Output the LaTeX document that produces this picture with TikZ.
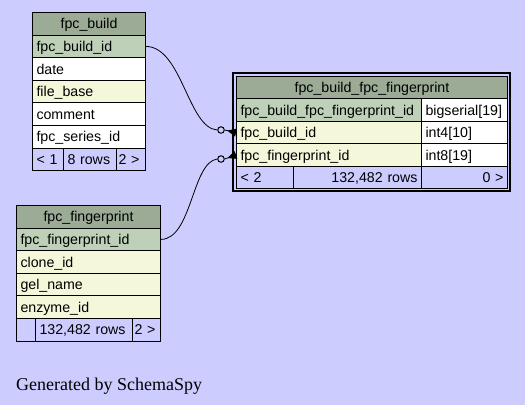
\documentclass[tikz,border=0pt]{standalone}
\usepackage{fontspec}
\usepackage{tikz}
\usetikzlibrary{positioning, arrows.meta}
\newfontfamily\tabfont{Liberation Sans}
\newfontfamily\capfont{Liberation Serif}
\definecolor{PageLavender}{RGB}{204, 204, 255}
\definecolor{HeadGray}{RGB}{155, 171, 150}
\definecolor{KeyGreen}{RGB}{190, 209, 184}
\definecolor{IndexYellow}{RGB}{244, 247, 218}

\begin{document}
\begin{tikzpicture}[x=1pt, y=-1pt,
    row/.style={draw, line width=1pt, anchor=north west, minimum height=22.6pt,
      inner xsep=4pt, inner ysep=0pt, text height=11pt, text depth=1pt,
      align=left, font=\tabfont\fontsize{14.2}{16}\selectfont},
    head/.style={row, fill=HeadGray, align=center},
    odot/.style={circle, draw, line width=1pt, minimum size=6.5pt, inner sep=0pt},
    crow/.style={line width=0.8pt, -{Triangle[reversed, length=9pt, width=8pt]}}]
    % Page
    \fill[PageLavender] (0,0) rectangle (525,405);

    % fpc_build table
    \node[head, text width=105pt] (bhead) at (32,12) {fpc\_build};
    \node[row, fill=KeyGreen, text width=105pt] (bid) at (32,34.6) {fpc\_build\_id};
    \node[row, fill=white, text width=105pt] (bdate) at (32,57.2) {date};
    \node[row, fill=IndexYellow, text width=105pt] (bfile) at (32,79.8) {file\_base};
    \node[row, fill=white, text width=105pt] (bcomment) at (32,102.4) {comment};
    \node[row, fill=white, text width=105pt] (bseries) at (32,125) {fpc\_series\_id};
    % Footer row
    \node[row, text width=23pt] (bprev) at (32,147.6) {< 1};
    \node[row, text width=45pt] (brows) at (63,147.6) {8 rows};
    \node[row, inner xsep=2pt, text width=25pt] (bnext) at (116,147.6) {2 >};

    % fpc_fingerprint table
    \node[head, text width=136pt] (fhead) at (16,205) {fpc\_fingerprint};
    \node[row, fill=KeyGreen, text width=136pt] (fid) at (16,227.6) {fpc\_fingerprint\_id};
    \node[row, fill=IndexYellow, text width=136pt] (fclone) at (16,250.2) {clone\_id};
    \node[row, fill=IndexYellow, text width=136pt] (fgel) at (16,272.8) {gel\_name};
    \node[row, fill=IndexYellow, text width=136pt] (fenzyme) at (16,295.4) {enzyme\_id};
    % Footer row
    \node[row, text width=11pt] (fprev) at (16,318) {};
    \node[row, text width=89pt] (frows) at (35,318) {132,482 rows};
    \node[row, inner xsep=2pt, text width=24pt] (fnext) at (132,318) {2 >};

    % fpc_build_fpc_fingerprint table (selected)
    \node[head, text width=263pt] (lhead) at (236,76) {fpc\_build\_fpc\_fingerprint};
    \node[row, fill=KeyGreen, text width=177pt] (lid) at (236,98.4) {fpc\_build\_fpc\_fingerprint\_id};
    \node[row, fill=white, text width=78pt] (lidtype) at (421,98.4) {bigserial[19]};
    \node[row, fill=IndexYellow, text width=177pt] (lbuild) at (236,120.8) {fpc\_build\_id};
    \node[row, fill=white, text width=78pt] (lbuildtype) at (421,120.8) {int4[10]};
    \node[row, fill=IndexYellow, text width=177pt] (lfinger) at (236,143.2) {fpc\_fingerprint\_id};
    \node[row, fill=white, text width=78pt] (lfingertype) at (421,143.2) {int8[19]};
    % Footer row
    \node[row, text width=49pt] (lprev) at (236,165.6) {< 2};
    \node[row, text width=120pt, align=right] (lrows) at (293,165.6) {132,482 rows};
    \node[row, text width=78pt, align=right] (lnext) at (421,165.6) {0 >};
    % Outer border
    \draw[line width=2pt] (233,73) rectangle (510,191);

    % Relationships
    \node[odot] (o1) at (221,130) {};
    \node[odot] (o2) at (221,159) {};
    \draw[line width=0.8pt] (bid.east) .. controls (182,47) and (188,128) .. (o1.west);
    \draw[crow] (o1.east) -- (lbuild.west);
    \draw[line width=0.8pt] (fid.east) .. controls (192,239) and (192,162) .. (o2.west);
    \draw[crow] (o2.east) -- (lfinger.west);

    % Caption
    \node[font=\capfont\fontsize{18}{20}\selectfont, anchor=base west, inner sep=0pt] (gen) at (16,390) {Generated by SchemaSpy};
\end{tikzpicture}
\end{document}
